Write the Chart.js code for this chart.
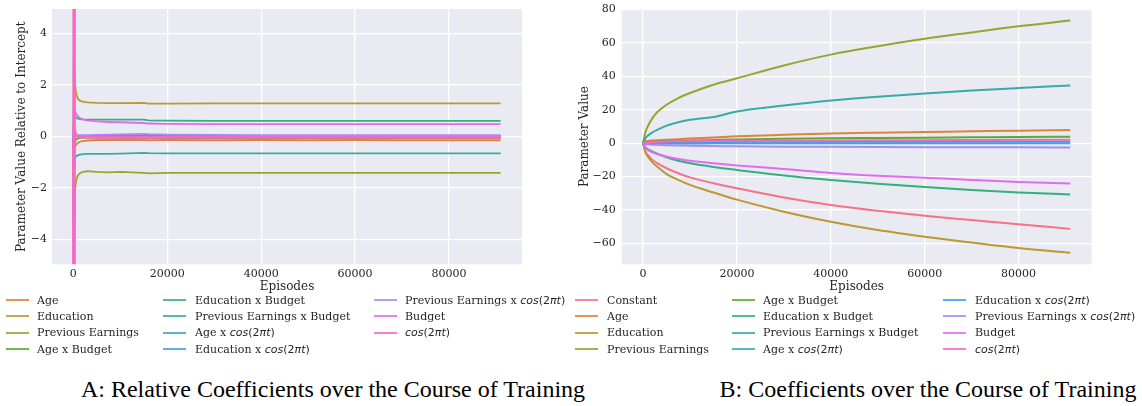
<!DOCTYPE html>
<html>
<head>
<meta charset="utf-8">
<script src="https://cdn.jsdelivr.net/npm/chart.js@4.4.0/dist/chart.umd.min.js"></script>
<style>
  body { margin: 0; width: 1142px; height: 406px; background: #fff; position: relative; overflow: hidden;
         font-family: 'DejaVu Serif', serif; color: #262626; }
  canvas { position: absolute; top: 0; }
  #chartA { left: 0; }
  #chartB { left: 560px; }
  .leg { position: absolute; font-size: 11px; line-height: 13px; white-space: nowrap; }
  .sw { position: absolute; height: 2px; width: 23px; opacity: 0.85; }
  .m { font-family: 'DejaVu Sans', sans-serif; }
  .cap { position: absolute; top: 376px; font-family: 'Liberation Serif', 'Times New Roman', serif;
         font-size: 24px; color: #000; white-space: nowrap; transform: translateX(-50%); }
</style>
</head>
<body>
<canvas id="chartA" width="540" height="300"></canvas>
<canvas id="chartB" width="552" height="300"></canvas>
<div id="legA"></div>
<div id="legB"></div>
<div class="cap" style="left:333px">A: Relative Coefficients over the Course of Training</div>
<div class="cap" style="left:928px">B: Coefficients over the Course of Training</div>

<script>
const episodesA = [0, 50, 100, 150, 200, 300, 500, 700, 1000, 1500, 2000, 3000, 5000, 7500, 10000,
                   15000, 16000, 20000, 30000, 40000, 50000, 60000, 70000, 80000, 91000];
const episodesB = [0, 500, 1000, 2000, 3000, 5000, 7500, 10000, 15000, 20000, 30000, 40000, 50000,
                   60000, 70000, 80000, 91000];

const xTicks = [0, 20000, 40000, 60000, 80000];
const yTicksA = [-4, -2, 0, 2, 4];
const yTicksB = [-60, -40, -20, 0, 20, 40, 60, 80];

const namesB = ['Constant', 'Age', 'Education', 'Previous Earnings', 'Age x Budget', 'Education x Budget',
                'Previous Earnings x Budget', 'Age x cos(2πt)', 'Education x cos(2πt)',
                'Previous Earnings x cos(2πt)', 'Budget', 'cos(2πt)'];
const namesA = namesB.slice(1);

const colorsB = ['#f77189', '#e0833a', '#bb9832', '#97a431', '#56ae31', '#33b07f',
                 '#36ada4', '#38a9c1', '#3ba3ec', '#a48cf4', '#e06cf2', '#f668c2'];
const colorsA = colorsB.slice(1);

// B: raw coefficients
const constantB     = [0, -5, -7, -10, -12, -15, -18, -20.5, -24, -27, -32.5, -37, -40.5, -43.5, -46, -48.5, -51.3];
const ageB          = [0, 1, 1.3, 1.6, 1.8, 2.1, 2.4, 2.8, 3.4, 4.1, 5, 5.8, 6.3, 6.7, 7.1, 7.5, 7.9];
const educationB    = [0, -5.5, -8, -11.5, -14, -18.5, -22, -25, -29.5, -33.8, -41, -47, -52, -56, -59.5, -62.8, -65.6];
const prevEarningsB = [0, 6.5, 10, 15, 18.5, 23, 27, 30, 35, 38.8, 46.5, 53, 58, 62.5, 66.3, 70, 73.4];
const ageBudgetB    = [0, 0.5, 0.7, 0.9, 1.0, 1.2, 1.4, 1.6, 1.9, 2.2, 2.6, 2.9, 3.1, 3.3, 3.5, 3.7, 3.8];
const eduBudgetB    = [0, -2.5, -3.5, -5, -6.3, -8.5, -10.5, -12, -14.2, -16, -19.3, -22, -24.3, -26.2, -28, -29.5, -30.7];
const prevBudgetB   = [0, 3, 4.5, 6.5, 8, 10.5, 12.5, 14, 15.6, 19, 22.5, 25.5, 27.8, 29.7, 31.5, 33, 34.5];
const ageCosB       = [0, 0.3, 0.4, 0.5, 0.5, 0.6, 0.6, 0.7, 0.7, 0.8, 0.8, 0.9, 0.9, 0.9, 1.0, 1.0, 1.0];
const eduCosB       = [0, -0.2, -0.3, -0.3, -0.3, -0.2, -0.2, -0.2, -0.1, -0.1, -0.1, 0, 0, 0, 0, 0, 0];
const prevCosB      = [0, -0.5, -0.7, -0.9, -1.0, -1.2, -1.4, -1.5, -1.7, -1.9, -2.1, -2.2, -2.3, -2.4, -2.5, -2.5, -2.6];
const budgetB       = [0, -3, -4, -5.5, -6.5, -8, -9.5, -10.5, -12, -13.3, -15.5, -17.8, -19.5, -20.7, -22, -23.2, -24.2];
const cosB          = [0, 0.3, 0.5, 0.7, 0.8, 1.0, 1.1, 1.2, 1.3, 1.4, 1.5, 1.6, 1.7, 1.8, 1.9, 2.0, 2.0];

// A: coefficients relative to the intercept
const ageA          = [0, 0.4, -0.6, 0.3, -0.4, -0.3, -0.35, -0.3, -0.25, -0.2, -0.18, -0.16, -0.14, -0.14, -0.13,
                       -0.14, -0.15, -0.14, -0.15, -0.14, -0.15, -0.14, -0.15, -0.15, -0.15];
const educationA    = [0, 2.2, 3.1, 2.7, 2.5, 2.1, 1.8, 1.6, 1.45, 1.38, 1.35, 1.32, 1.3, 1.29, 1.29,
                       1.3, 1.27, 1.27, 1.28, 1.28, 1.28, 1.28, 1.28, 1.28, 1.28];
const prevEarningsA = [0, -2.8, -3.9, -3.2, -2.7, -2.2, -1.85, -1.65, -1.5, -1.42, -1.38, -1.35, -1.38, -1.4, -1.38,
                       -1.42, -1.44, -1.42, -1.42, -1.42, -1.42, -1.42, -1.42, -1.42, -1.42];
const ageBudgetA    = [0, -0.8, -1.6, -0.7, -0.4, -0.25, -0.15, -0.1, -0.08, -0.06, -0.05, -0.05, -0.05, -0.05, -0.06,
                       -0.06, -0.06, -0.07, -0.07, -0.07, -0.07, -0.07, -0.07, -0.07, -0.07];
const eduBudgetA    = [0, 1.0, 0.4, 1.1, 0.85, 0.78, 0.74, 0.71, 0.69, 0.67, 0.66, 0.65, 0.65, 0.65, 0.65,
                       0.65, 0.62, 0.61, 0.6, 0.6, 0.6, 0.6, 0.6, 0.6, 0.6];
const prevBudgetA   = [0, -1.3, -0.5, -1.1, -0.95, -0.88, -0.8, -0.76, -0.73, -0.71, -0.69, -0.68, -0.68, -0.68, -0.67,
                       -0.64, -0.65, -0.66, -0.66, -0.66, -0.66, -0.66, -0.66, -0.66, -0.66];
const ageCosA       = [0, 0.5, -0.3, 0.25, 0.1, 0.06, 0.04, 0.03, 0.02, 0.02, 0.02, 0.02, 0.02, 0.02, 0.02,
                       0.02, 0.02, 0.02, 0.02, 0.02, 0.02, 0.02, 0.02, 0.02, 0.02];
const eduCosA       = [0, 0.3, 0.15, -0.25, 0.15, 0.1, 0.05, 0.03, 0.01, 0, -0.01, -0.01, -0.01, -0.01, -0.01,
                       -0.01, -0.01, -0.01, -0.01, -0.01, -0.01, -0.01, -0.01, -0.01, -0.01];
const prevCosA      = [0, -0.3, 0.35, 0.1, 0.12, 0.09, 0.07, 0.06, 0.05, 0.05, 0.05, 0.05, 0.06, 0.07, 0.08,
                       0.1, 0.09, 0.07, 0.06, 0.05, 0.05, 0.05, 0.05, 0.05, 0.05];
const budgetA       = [0, 0.5, 1.3, 0.8, 1.05, 1.0, 0.92, 0.85, 0.78, 0.7, 0.66, 0.62, 0.58, 0.56, 0.55,
                       0.52, 0.5, 0.49, 0.48, 0.48, 0.48, 0.48, 0.48, 0.48, 0.48];
const cosA          = [0, 70, -70, 55, -50, 0.3, 0.05, 0.02, 0, -0.02, -0.03, -0.03, -0.04, -0.04, -0.04,
                       -0.04, -0.04, -0.04, -0.04, -0.04, -0.04, -0.04, -0.04, -0.04, -0.04];

const seriesA = [ageA, educationA, prevEarningsA, ageBudgetA, eduBudgetA, prevBudgetA,
                 ageCosA, eduCosA, prevCosA, budgetA, cosA];
const seriesB = [constantB, ageB, educationB, prevEarningsB, ageBudgetB, eduBudgetB, prevBudgetB,
                 ageCosB, eduCosB, prevCosB, budgetB, cosB];

const textColor = '#262626';
const tickFont = { family: 'DejaVu Serif', size: 11 };
const titleFont = { family: 'DejaVu Serif', size: 12 };
const fmt = v => (v < 0 ? '\u2212' + (-v) : String(v));

// grey seaborn panel behind the lines
const plotBg = {
  id: 'plotBg',
  beforeDraw(chart) {
    const { ctx, chartArea: a } = chart;
    ctx.save();
    ctx.fillStyle = '#eaeaf2';
    ctx.fillRect(a.left, a.top, a.right - a.left, a.bottom - a.top);
    ctx.restore();
  }
};

function makeChart(id, episodes, names, series, colors, cfg) {
  const datasets = series.map((vals, i) => ({
    label: names[i],
    data: episodes.map((x, j) => ({ x: x, y: vals[j] })),
    borderColor: colors[i],
    borderWidth: cfg.widths ? cfg.widths[i] : 2,
    pointRadius: 0,
    fill: false,
    cubicInterpolationMode: cfg.smooth ? 'monotone' : 'default',
    order: series.length - i
  }));
  return new Chart(document.getElementById(id), {
    type: 'line',
    data: { datasets: datasets },
    options: {
      responsive: false,
      animation: false,
      events: [],
      layout: { padding: cfg.padding },
      plugins: { legend: { display: false }, tooltip: { enabled: false } },
      scales: {
        x: {
          type: 'linear', min: -4550, max: 95550,
          afterBuildTicks: s => { s.ticks = xTicks.map(v => ({ value: v })); },
          afterFit: s => { s.height = 300 - 264.3; s.paddingLeft = 0; s.paddingRight = 0; },
          grid: { color: '#ffffff', lineWidth: 1.3, drawTicks: false },
          border: { display: false },
          ticks: { font: tickFont, color: textColor, padding: 3, autoSkip: false, maxRotation: 0, callback: fmt },
          title: { display: true, text: 'Episodes', font: titleFont, color: textColor, padding: { top: 0, bottom: 6 } }
        },
        y: {
          min: cfg.yMin, max: cfg.yMax,
          afterBuildTicks: s => { s.ticks = cfg.yTicks.map(v => ({ value: v })); },
          afterFit: s => { s.width = cfg.yWidth; s.paddingTop = 0; s.paddingBottom = 0; },
          grid: { color: '#ffffff', lineWidth: 1.3, drawTicks: false },
          border: { display: false },
          ticks: { font: tickFont, color: textColor, padding: cfg.tickPad, autoSkip: false, callback: fmt },
          title: { display: true, text: cfg.yTitle, font: titleFont, color: textColor, padding: { top: cfg.titlePad, bottom: 0 } }
        }
      }
    },
    plugins: [plotBg]
  });
}

makeChart('chartA', episodesA, namesA, seriesA, colorsA, {
  padding: { left: 0, top: 9, right: 18, bottom: 0 },
  yMin: -4.97, yMax: 4.95, yTicks: yTicksA, yWidth: 52, tickPad: 5, titlePad: 15,
  yTitle: 'Parameter Value Relative to Intercept',
  widths: [1.8, 1.8, 1.8, 1.8, 1.8, 1.8, 1.8, 1.8, 1.8, 1.8, 2.6]
});

makeChart('chartB', episodesB, namesB, seriesB, colorsB, {
  padding: { left: 0, top: 9, right: 20.4, bottom: 0 },
  yMin: -72.5, yMax: 80.3, yTicks: yTicksB, yWidth: 61.7, tickPad: 6, titlePad: 18,
  yTitle: 'Parameter Value', smooth: true
});

// legends below each panel, three columns
const rowY = [300, 316, 332.5, 349];
const legendColsA = [{ sx: 6, tx: 37, items: [0, 1, 2, 3] },
                     { sx: 163, tx: 195, items: [4, 5, 6, 7] },
                     { sx: 374, tx: 405, items: [8, 9, 10] }];
const legendColsB = [{ sx: 575, tx: 607, items: [0, 1, 2, 3] },
                     { sx: 732, tx: 763, items: [4, 5, 6, 7] },
                     { sx: 943, tx: 975, items: [8, 9, 10, 11] }];

function labelHtml(name) {
  return name.replace('cos(2πt)', '<span class="m"><i>cos</i>(2<i>πt</i>)</span>');
}

function buildLegend(elId, names, colors, cols) {
  const el = document.getElementById(elId);
  let html = '';
  cols.forEach(c => {
    c.items.forEach((idx, r) => {
      html += '<div class="sw" style="left:' + c.sx + 'px;top:' + (rowY[r] - 1) + 'px;background:' + colors[idx] + '"></div>';
      html += '<div class="leg" style="left:' + c.tx + 'px;top:' + (rowY[r] - 6.5) + 'px">' + labelHtml(names[idx]) + '</div>';
    });
  });
  el.innerHTML = html;
}

buildLegend('legA', namesA, colorsA, legendColsA);
buildLegend('legB', namesB, colorsB, legendColsB);
</script>
</body>
</html>
